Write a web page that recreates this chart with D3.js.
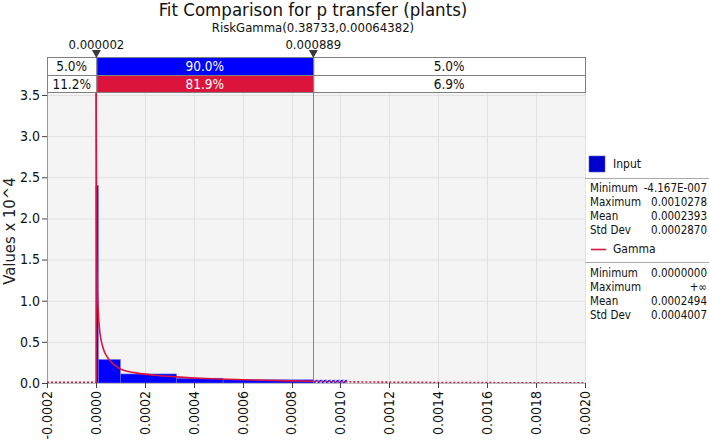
<!DOCTYPE html>
<html><head><meta charset="utf-8">
<script src="https://cdn.jsdelivr.net/npm/d3@7"></script>
<style>
body{margin:0;background:#fff;}
svg text{font-family:"DejaVu Sans Condensed","DejaVu Sans",sans-serif;}
</style></head>
<body><svg id="c" width="709" height="442"></svg>
<script>
const title = "Fit Comparison for p transfer (plants)";
const subtitle = "RiskGamma(0.38733,0.00064382)";
const xTicks = [-0.0002,0,0.0002,0.0004,0.0006,0.0008,0.0010,0.0012,0.0014,0.0016,0.0018,0.0020];
const yTicks = [0,0.5,1.0,1.5,2.0,2.5,3.0,3.5];
const delimiters = [0.000002, 0.000889];
const delimiterLabels = ["0.000002","0.000889"];
const inputPct = ["5.0%","90.0%","5.0%"];
const gammaPct = ["11.2%","81.9%","6.9%"];
const binEdges = [0, 0.00001, 0.0001, 0.00033, 0.00052, 0.0010278];
const binHeights = [2.40, 0.285, 0.11, 0.058, 0.039];
const gammaX = [0.0000005,0.000001,0.000003,0.000006,0.00001,0.000015,0.00003,0.00005,0.00008,0.0001,0.00017,0.00024,0.00033,0.00045,0.0006,0.0008,0.000889];
const gammaY = [4.5,3.5,1.9,1.15,0.85,0.65,0.42,0.30,0.21,0.17,0.12,0.095,0.075,0.055,0.04,0.026,0.021];
const gammaTailX = [0.000889,0.001,0.0012,0.0014,0.0016,0.0018,0.002];
const gammaTailY = [0.021,0.016,0.010,0.0065,0.0042,0.0027,0.0017];
const inputStatNames = ["Minimum","Maximum","Mean","Std Dev"];
const inputStatVals = ["-4.167E-007","0.0010278","0.0002393","0.0002870"];
const gammaStatNames = ["Minimum","Maximum","Mean","Std Dev"];
const gammaStatVals = ["0.0000000","+\u221E","0.0002494","0.0004007"];

const BLUE="#0000ff", RED="#dc143c";
const svg = d3.select("#c");
const x = d3.scaleLinear().domain([-0.0002,0.002]).range([47,585]);
const y = d3.scaleLinear().domain([0,3.5]).range([383,95]);
const pTop=93, pBottom=383;

// defs
const defs = svg.append("defs");
const pat = defs.append("pattern").attr("id","hatch").attr("patternUnits","userSpaceOnUse")
  .attr("width",3).attr("height",3).attr("patternTransform","rotate(45)");
pat.append("rect").attr("width",3).attr("height",3).attr("fill","#ffffff");
pat.append("rect").attr("width",1.6).attr("height",3).attr("fill",BLUE);
defs.append("clipPath").attr("id","plotclip").append("rect")
  .attr("x",x(-0.0002)).attr("y",pTop).attr("width",x(0.002)-x(-0.0002)).attr("height",pBottom-pTop);

// titles
svg.append("text").attr("x",313).attr("y",16).attr("text-anchor","middle").attr("font-size",18.5).attr("fill","#111").text(title);
svg.append("text").attr("x",313).attr("y",32).attr("text-anchor","middle").attr("font-size",13).attr("fill","#111").text(subtitle);

// plot background
svg.append("rect").attr("x",x(-0.0002)).attr("y",pTop).attr("width",x(0.002)-x(-0.0002)).attr("height",pBottom-pTop).attr("fill","#f4f4f4");
// grid
svg.append("g").selectAll("line").data(yTicks).join("line")
  .attr("x1",x(-0.0002)).attr("x2",x(0.002)).attr("y1",d=>y(d)+0.5).attr("y2",d=>y(d)+0.5)
  .attr("stroke","#e1e1e1");
svg.append("g").selectAll("line").data(xTicks).join("line")
  .attr("x1",d=>Math.round(x(d))+0.5).attr("x2",d=>Math.round(x(d))+0.5).attr("y1",pTop).attr("y2",pBottom)
  .attr("stroke","#e1e1e1");

// histogram bars
const bars = svg.append("g").attr("clip-path","url(#plotclip)");
binHeights.forEach((h,i)=>{
  const a=binEdges[i], b=binEdges[i+1];
  const solidEnd = Math.min(b, delimiters[1]);
  bars.append("rect").attr("x",x(a)).attr("y",y(h)).attr("width",x(solidEnd)-x(a)).attr("height",y(0)-y(h))
    .attr("fill",BLUE).attr("stroke","#7070ff").attr("stroke-width",0.6);
  if(b>delimiters[1]){
    bars.append("rect").attr("x",x(delimiters[1])).attr("y",y(h)).attr("width",x(b)-x(delimiters[1])).attr("height",y(0)-y(h))
      .attr("fill","url(#hatch)");
  }
});

// axes lines
svg.append("line").attr("x1",47.5).attr("x2",47.5).attr("y1",pTop).attr("y2",pBottom).attr("stroke","#999");
svg.append("line").attr("x1",x(-0.0002)).attr("x2",x(0.002)).attr("y1",pBottom+0.5).attr("y2",pBottom+0.5).attr("stroke","#bbb");

// delimiter line
svg.append("line").attr("x1",Math.round(x(delimiters[1]))+0.5).attr("x2",Math.round(x(delimiters[1]))+0.5)
  .attr("y1",57).attr("y2",pBottom).attr("stroke","#888").attr("stroke-width",1);

// gamma curve
const line = d3.line().x(d=>x(d[0])).y(d=>y(d[1])).curve(d3.curveMonotoneX);
const cg = svg.append("g").attr("clip-path","url(#plotclip)");
cg.append("path").datum(gammaX.map((v,i)=>[v,gammaY[i]])).attr("d",line)
  .attr("fill","none").attr("stroke",RED).attr("stroke-width",1.6);
cg.append("path").datum(gammaTailX.map((v,i)=>[v,gammaTailY[i]])).attr("d",line)
  .attr("fill","none").attr("stroke",RED).attr("stroke-width",1.6).attr("stroke-dasharray","2,2");
cg.append("path").datum([[-0.0002,0],[0,0]]).attr("d",d3.line().x(d=>x(d[0])).y(d=>y(d[1])-0.8))
  .attr("fill","none").attr("stroke",RED).attr("stroke-width",1.6).attr("stroke-dasharray","2,2");
cg.append("line").attr("x1",x(0)+0.3).attr("x2",x(0)+0.3).attr("y1",pTop).attr("y2",pBottom)
  .attr("stroke",RED).attr("stroke-width",1.4);

// y axis
const ya = svg.append("g");
ya.selectAll("line").data(yTicks).join("line").attr("x1",42).attr("x2",47).attr("y1",d=>y(d)+0.5).attr("y2",d=>y(d)+0.5).attr("stroke","#444");
ya.selectAll("text").data(yTicks).join("text").attr("x",40).attr("y",d=>y(d)).attr("dy","0.35em")
  .attr("text-anchor","end").attr("font-size",14).attr("fill","#111").text(d3.format(".1f"));
svg.append("text").attr("transform","translate(15,231) rotate(-90)").attr("text-anchor","middle")
  .attr("font-size",16.5).attr("fill","#222").text("Values x 10^4");

// x axis
const fmtX = d => d3.format(".4f")(d).replace("\u2212","-");
const xa = svg.append("g");
xa.selectAll("line").data(xTicks).join("line").attr("x1",d=>Math.round(x(d))+0.5).attr("x2",d=>Math.round(x(d))+0.5)
  .attr("y1",pBottom).attr("y2",pBottom+5).attr("stroke","#444");
xa.selectAll("text").data(xTicks).join("text")
  .attr("transform",d=>`translate(${x(d)},${pBottom+8}) rotate(-90)`).attr("dy","0.35em")
  .attr("text-anchor","end").attr("font-size",14).attr("fill","#111").text(fmtX);

// delimiter table
const cellsX = [x(-0.0002), x(delimiters[0]), x(delimiters[1]), x(0.002)];
const rowsY = [57,75,92];
[[inputPct,BLUE],[gammaPct,RED]].forEach(([vals,col],r)=>{
  vals.forEach((v,i)=>{
    const fill = i===1?col:"#fff";
    svg.append("rect").attr("x",cellsX[i]+0.5).attr("y",rowsY[r]+0.5).attr("width",cellsX[i+1]-cellsX[i]).attr("height",rowsY[r+1]-rowsY[r])
      .attr("fill",fill).attr("stroke","#808080");
    svg.append("text").attr("x",(cellsX[i]+cellsX[i+1])/2).attr("y",(rowsY[r]+rowsY[r+1])/2+0.5).attr("dy","0.35em")
      .attr("text-anchor","middle").attr("font-size",13.5).attr("fill",i===1?"#fff":"#111").text(v);
  });
});
// markers
delimiters.forEach((d,i)=>{
  const px=x(d);
  svg.append("path").attr("d",`M${px-4.5},50 L${px+4.5},50 L${px},58 Z`).attr("fill","#3a3a3a");
  svg.append("text").attr("x",px).attr("y",48.5).attr("text-anchor","middle").attr("font-size",13).attr("fill","#111").text(delimiterLabels[i]);
});

// legend
const lg = svg.append("g");
lg.append("rect").attr("x",589).attr("y",156).attr("width",16).attr("height",16).attr("fill","#0000cc").attr("stroke","#6060a0").attr("stroke-width",0.6);
lg.append("text").attr("x",613).attr("y",164).attr("dy","0.35em").attr("font-size",12).attr("fill","#111").text("Input");
lg.append("line").attr("x1",585).attr("x2",709).attr("y1",178.5).attr("y2",178.5).attr("stroke","#aaa");
inputStatNames.forEach((n,i)=>{
  lg.append("text").attr("x",590).attr("y",188+i*14).attr("dy","0.35em").attr("font-size",11.5).attr("fill","#111").text(n);
  lg.append("text").attr("x",707).attr("y",188+i*14).attr("dy","0.35em").attr("text-anchor","end").attr("font-size",11.5).attr("fill","#111").text(inputStatVals[i]);
});
lg.append("line").attr("x1",591).attr("x2",606).attr("y1",249.5).attr("y2",249.5).attr("stroke",RED).attr("stroke-width",1.6);
lg.append("text").attr("x",613).attr("y",249).attr("dy","0.35em").attr("font-size",12).attr("fill","#111").text("Gamma");
lg.append("line").attr("x1",585).attr("x2",709).attr("y1",262.5).attr("y2",262.5).attr("stroke","#aaa");
gammaStatNames.forEach((n,i)=>{
  lg.append("text").attr("x",590).attr("y",273+i*14).attr("dy","0.35em").attr("font-size",11.5).attr("fill","#111").text(n);
  lg.append("text").attr("x",707).attr("y",273+i*14).attr("dy","0.35em").attr("text-anchor","end").attr("font-size",11.5).attr("fill","#111").text(gammaStatVals[i]);
});
</script></body></html>
